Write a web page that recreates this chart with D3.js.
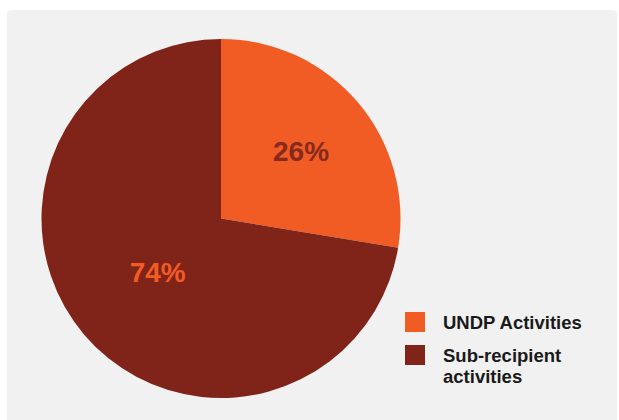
<!DOCTYPE html>
<html>
<head>
<meta charset="utf-8">
<script src="https://cdn.jsdelivr.net/npm/d3@7"></script>
<style>
    html, body { margin: 0; padding: 0; background: #ffffff; }
    svg { display: block; }
    text { font-family: "Liberation Sans", Arial, Helvetica, sans-serif; font-weight: bold; }
</style>
</head>
<body>
<svg id="chart" width="619" height="420"></svg>
<script>
// Chart data
const categories = ["UNDP Activities", "Sub-recipient activities"];
const shares = [27.6, 72.4];          // slice sizes as drawn
const shareLabels = ["26%", "74%"];   // printed labels
const legendLines = [["UNDP Activities"], ["Sub-recipient", "activities"]];

const width = 619, height = 420;
const cx = 221, cy = 218.5, radius = 179.5;

const svg = d3.select("#chart");

// Grey panel
svg.append("rect")
   .attr("x", 7)
   .attr("y", 10)
   .attr("width", 610)
   .attr("height", height)
   .attr("rx", 4)
   .attr("fill", "#f1f1f1");

const color = d3.scaleOrdinal()
                .domain(categories)
                .range(["#f15b24", "#80241a"]);

const labelColor = d3.scaleOrdinal()
                     .domain(categories)
                     .range(["#852a1c", "#f15b24"]);

const pie = d3.pie()
              .sort(null)
              .value((d, i) => shares[i]);

const arcs = pie(categories);

const arc = d3.arc()
              .innerRadius(0)
              .outerRadius(radius);

const g = svg.append("g")
             .attr("transform", `translate(${cx},${cy})`);

// Slices
g.selectAll("path")
 .data(arcs)
 .enter()
 .append("path")
 .attr("d", arc)
 .attr("fill", (d) => color(d.data));

// Percentage labels, placed along each slice's mid angle
const labelRadius = [105, 83];
g.selectAll("text.pct")
 .data(arcs)
 .enter()
 .append("text")
 .attr("class", "pct")
 .attr("text-anchor", "middle")
 .attr("font-size", 28)
 .attr("fill", (d) => labelColor(d.data))
 .attr("x", (d, i) => {
     const a = (d.startAngle + d.endAngle) / 2;
     return Math.sin(a) * labelRadius[i];
 })
 .attr("y", (d, i) => {
     const a = (d.startAngle + d.endAngle) / 2;
     return -Math.cos(a) * labelRadius[i] + 10;
 })
 .text((d, i) => shareLabels[i]);

// Legend
const legend = svg.append("g")
                  .attr("transform", "translate(405,312)");

const item = legend.selectAll("g")
                   .data(categories)
                   .enter()
                   .append("g")
                   .attr("transform", (d, i) => `translate(0,${i * 33})`);

item.append("rect")
    .attr("width", 20)
    .attr("height", 20)
    .attr("fill", (d) => color(d));

item.append("text")
    .attr("x", 38)
    .attr("y", 17)
    .attr("font-size", 18.5)
    .attr("fill", "#1a1a1a")
    .selectAll("tspan")
    .data((d, i) => legendLines[i])
    .enter()
    .append("tspan")
    .attr("x", 38)
    .attr("dy", (d, j) => j === 0 ? 0 : 21)
    .text((d) => d);
</script>
</body>
</html>
